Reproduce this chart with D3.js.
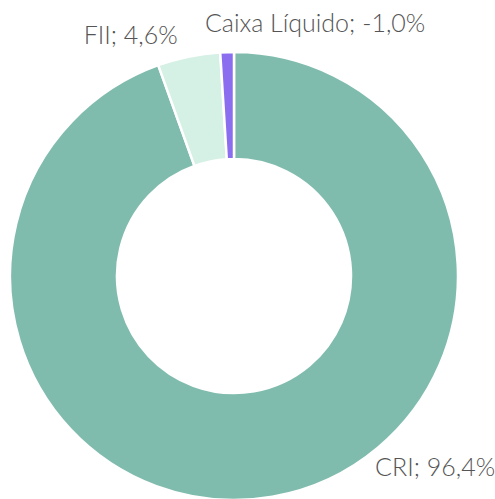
<!DOCTYPE html>
<html><head><meta charset="utf-8">
<script src="https://cdn.jsdelivr.net/npm/d3@7"></script>
<style>body{margin:0;background:#fff}svg{display:block}</style>
</head><body>
<svg id="c" width="495" height="499"></svg>
<script>
const categories = ["CRI", "FII", "Caixa Líquido"];
const values = [96.4, 4.6, -1.0];
const labels = ["CRI; 96,4%", "FII; 4,6%", "Caixa Líquido; -1,0%"];
const colors = ["#80bcad", "#d5f0e4", "#8b6ef0"];

const svg = d3.select("#c");
const cx = 234, cy = 276, R = 224, r = 117;
const g = svg.append("g").attr("transform", `translate(${cx},${cy})`);
const pie = d3.pie().sort(null).value(d => Math.abs(d));
const arcs = pie(values);
const arc = d3.arc().innerRadius(r).outerRadius(R);
g.selectAll("path").data(arcs).join("path")
  .attr("d", arc).attr("fill", (d, i) => colors[i])
  .attr("stroke", "#fff").attr("stroke-width", 2.5);

// label placement relative to slices (polar offsets from the donut centre)
const place = [
  {ang: 134.9, rad: 284, anchor: "middle"},
  {ang: -13.6, rad: 239, anchor: "end"},
  {ang: -6.8, rad: 246, anchor: "start"}
];
const lbl = svg.append("g").attr("transform", `translate(${cx},${cy})`);
lbl.selectAll("text").data(labels).join("text")
  .attr("x", (d, i) => place[i].rad * Math.sin(place[i].ang * Math.PI / 180))
  .attr("y", (d, i) => -place[i].rad * Math.cos(place[i].ang * Math.PI / 180))
  .attr("text-anchor", (d, i) => place[i].anchor)
  .attr("font-family", "Lato, 'Open Sans', sans-serif")
  .attr("font-weight", 300)
  .attr("font-size", 25)
  .attr("fill", "#555")
  .text(d => d);
</script>
</body></html>
